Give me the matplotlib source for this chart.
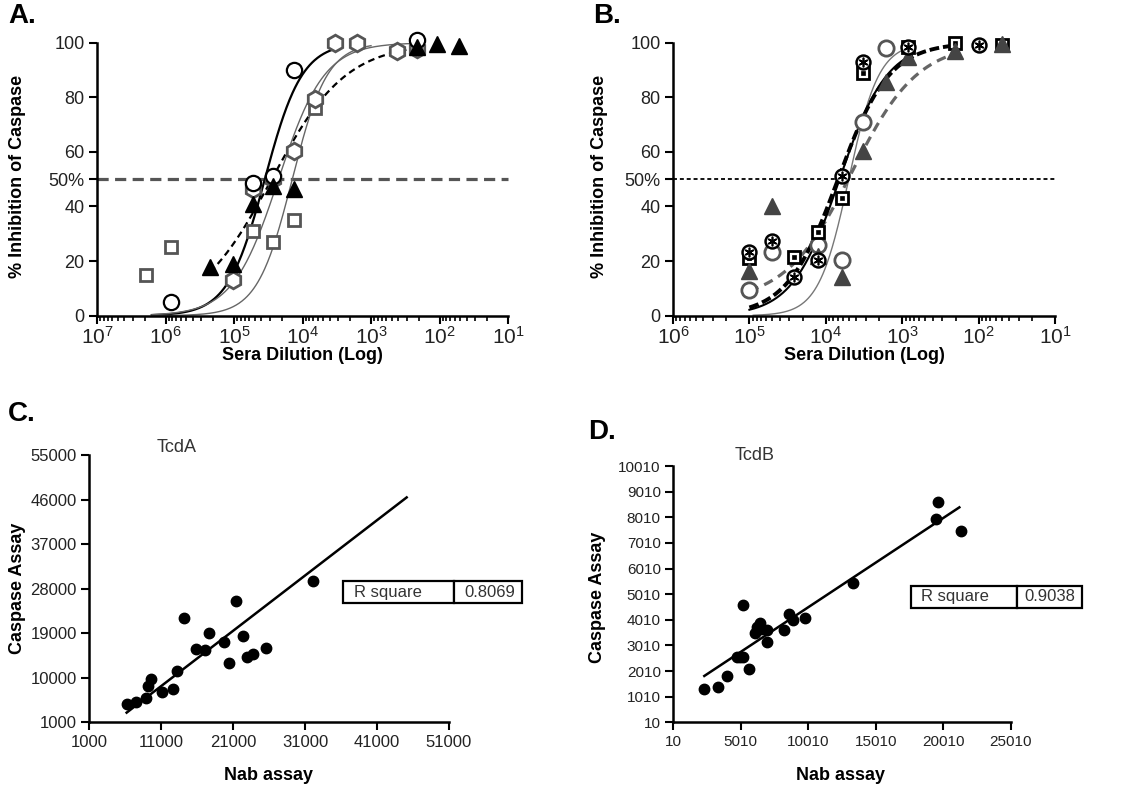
import matplotlib
matplotlib.use('Agg')
import matplotlib.pyplot as plt
import numpy as np
from matplotlib.ticker import FixedLocator, LogLocator, NullFormatter
from matplotlib import font_manager

plt.rcParams['font.family'] = ['Liberation Sans', 'DejaVu Sans']
plt.rcParams['mathtext.fontset'] = 'custom'
plt.rcParams['mathtext.rm'] = 'Liberation Sans'
plt.rcParams['mathtext.it'] = 'Liberation Sans:italic'
plt.rcParams['mathtext.bf'] = 'Liberation Sans:bold'

_names = {f.name for f in font_manager.fontManager.ttflist}
NARROW = 'Liberation Sans Narrow' if 'Liberation Sans Narrow' in _names else 'Liberation Sans'

# ---------------- Panel A data (log10 of sera dilution, % inhibition) -------------
a_sq_log = [6.28, 5.92, 4.72, 4.43, 4.13, 3.82, 2.33]
a_sq_val = [15, 25, 31, 27, 35, 76, 98.5]
a_tri_log = [5.35, 5.01, 4.72, 4.43, 4.13, 2.33, 2.03, 1.72]
a_tri_val = [18, 19, 41, 47.5, 46.5, 98.5, 99.5, 98.8]
a_hex_log = [5.01, 4.72, 4.43, 4.13, 3.82, 3.52, 3.21, 2.62, 2.33]
a_hex_val = [13, 46.5, 50, 60.5, 79.5, 100, 100, 96.8, 97.8]
a_circ_log = [5.92, 4.72, 4.43, 4.13, 2.33]
a_circ_val = [5, 48.5, 51, 90, 101]
# fit parameters: bottom, top, logEC50, hill, log-range start, log-range end
a_fit_circ = [0, 100, 4.55, 1.6, 6.2, 3.55]
a_fit_tri = [0, 100, 4.45, 0.8, 5.35, 2.3]
a_fit_hex = [0, 100, 4.35, 1.3, 6.2, 2.3]
a_fit_sq = [0, 100, 4.15, 1.7, 6.2, 3.0]

# ---------------- Panel B data -------------
b_circ_log = [5.0, 4.71, 4.10, 3.79, 3.51, 3.21]
b_circ_val = [9.4, 23.5, 26, 20.4, 71, 98]
b_tri_log = [5.0, 4.71, 4.10, 3.79, 3.51, 3.21, 2.92, 2.31, 1.70]
b_tri_val = [16.5, 40, 22, 14.3, 60.5, 85.5, 94.6, 97, 99.5]
b_sq_log = [5.0, 4.41, 4.10, 3.79, 3.51, 2.92, 2.31, 1.70]
b_sq_val = [21, 21.4, 30.8, 43, 89, 98.5, 99.8, 99.3]
b_hs_log = [5.0, 4.71, 4.41, 4.10, 3.79, 3.51, 2.92, 2.00]
b_hs_val = [23.4, 27.5, 14.3, 20.4, 51, 93, 98.5, 99]
b_fit_solid = [0, 100, 3.82, 1.4, 5.0, 2.9]
b_fit_thick = [0, 100, 3.84, 1.3, 5.0, 2.3]
b_fit_gray = [5, 100, 3.66, 1.0, 5.0, 2.3]
b_fit_thin = [0, 100, 3.70, 2.2, 4.95, 2.9]

# ---------------- Panel C data -------------
c_nab = [6190, 7487, 8831, 9110, 9573, 11056, 12678, 13234, 14207, 15782, 17033,
         17682, 19768, 20370, 21390, 22409, 22965, 23800, 25514, 32141]
c_casp = [4700, 5040, 5846, 8300, 9800, 7200, 7700, 11400, 22060, 15900, 15600,
          19040, 17250, 13000, 25500, 18500, 14220, 14800, 16040, 29630]
c_slope, c_intercept = 1.117, -3962
c_fit_range = [6190, 45115]
c_r2 = "0.8069"

# ---------------- Panel D data -------------
d_nab = [2307, 3296, 3963, 4710, 4951, 5148, 5148, 5642, 6062, 6186, 6433, 6507,
         6927, 6976, 8211, 8607, 8903, 9768, 13350, 19452, 19600, 21330]
d_casp = [1310, 1401, 1818, 2572, 2572, 2572, 4587, 2078, 3508, 3716, 3872, 3638,
          3612, 3157, 3612, 4236, 4002, 4067, 5459, 7929, 8619, 7487]
d_slope, d_intercept = 0.3481, 1015
d_fit_range = [2307, 21205]
d_r2 = "0.9038"

a_xticks_exp = [7, 6, 5, 4, 3, 2, 1]
b_xticks_exp = [6, 5, 4, 3, 2, 1]
ab_yticks = [0, 20, 40, 50, 60, 80, 100]
ab_yticklabels = ['0', '20', '40', '50%', '60', '80', '100']
c_xticks = [1000, 11000, 21000, 31000, 41000, 51000]
c_yticks = [1000, 10000, 19000, 28000, 37000, 46000, 55000]
d_xticks = [10, 5010, 10010, 15010, 20010, 25010]
d_yticks = [10, 1010, 2010, 3010, 4010, 5010, 6010, 7010, 8010, 9010, 10010]


def logistic(lx, bottom, top, ec50, hill):
    lx = np.asarray(lx)
    return bottom + (top - bottom) / (1 + 10 ** ((lx - ec50) * hill))


def fit_curve(ax, p, **kw):
    lx = np.linspace(p[4], p[5], 300)
    ax.plot(10 ** lx, logistic(lx, *p[:4]), **kw)


W, H = 1132, 788
fig = plt.figure(figsize=(W / 100, H / 100), dpi=100)


def px_axes(x0, x1, ytop, ybot):
    return fig.add_axes([x0 / W, 1 - ybot / H, (x1 - x0) / W, (ybot - ytop) / H])


axA = px_axes(97, 508, 42.7, 315.7)
axB = px_axes(673, 1055, 42.7, 315.7)
axC = px_axes(89.3, 449, 455, 722.3)
axD = px_axes(673.3, 1010.7, 466, 722.3)


def style(ax, labelsize):
    for s in ['top', 'right']:
        ax.spines[s].set_visible(False)
    for s in ['left', 'bottom']:
        ax.spines[s].set_linewidth(1.8)
    ax.tick_params(which='major', direction='out', length=6, width=1.5,
                   labelsize=labelsize, labelcolor='#222222', pad=3)
    ax.tick_params(which='minor', direction='out', length=3.5, width=1.2)


# ---------------- Axes A/B setup -------------
for ax, exps in [(axA, a_xticks_exp), (axB, b_xticks_exp)]:
    ax.set_xscale('log')
    ax.set_xlim(10.0 ** exps[0], 10.0 ** exps[-1])
    ax.set_ylim(0, 100)
    ax.xaxis.set_major_locator(FixedLocator([10.0 ** e for e in exps]))
    ax.set_xticklabels([r'$10^{%d}$' % e for e in exps])
    ax.xaxis.set_minor_locator(LogLocator(base=10, subs=np.arange(2, 10), numticks=20))
    ax.xaxis.set_minor_formatter(NullFormatter())
    ax.set_yticks(ab_yticks)
    ax.set_yticklabels(ab_yticklabels)
    style(ax, 13)
    ax.tick_params(axis='x', which='major', labelsize=15, pad=1)

# ---------------- Panel A -------------
axA.axhline(50, color='#555555', lw=2.3, dashes=(3.5, 2.0), zorder=1, clip_on=False)
fit_curve(axA, a_fit_circ, color='black', lw=1.6, zorder=2)
fit_curve(axA, a_fit_tri, color='black', lw=1.6, dashes=(3, 2), zorder=2)
fit_curve(axA, a_fit_hex, color='#666666', lw=1.0, zorder=2)
fit_curve(axA, a_fit_sq, color='#666666', lw=1.0, zorder=2)

axA.plot(10 ** np.array(a_sq_log), a_sq_val, 's', ms=9, mfc='white', mec='#555555',
         mew=2, clip_on=False, zorder=4)
axA.plot(10 ** np.array(a_hex_log), a_hex_val, 'h', ms=12, mfc='white', mec='#555555',
         mew=2, clip_on=False, zorder=4)
axA.plot(10 ** np.array(a_circ_log), a_circ_val, 'o', ms=11, mfc='white', mec='black',
         mew=1.6, clip_on=False, zorder=5)
axA.plot(10 ** np.array(a_tri_log), a_tri_val, '^', ms=11, mfc='black', mec='black',
         mew=1, clip_on=False, zorder=6)

# ---------------- Panel B -------------
axB.axhline(50, color='black', lw=1.3, dashes=(2.2, 1.6), zorder=1, clip_on=False)
fit_curve(axB, b_fit_thin, color='#777777', lw=1.0, zorder=2)
fit_curve(axB, b_fit_gray, color='#666666', lw=2.3, dashes=(3, 2), zorder=2)
fit_curve(axB, b_fit_solid, color='black', lw=1.5, zorder=3)
fit_curve(axB, b_fit_thick, color='black', lw=2.8, dashes=(2.5, 1), zorder=3)

axB.plot(10 ** np.array(b_circ_log), b_circ_val, 'o', ms=11, mfc='white', mec='#555555',
         mew=2, clip_on=False, zorder=4)
axB.plot(10 ** np.array(b_sq_log), b_sq_val, 's', ms=9, mfc='white', mec='black',
         mew=2, clip_on=False, zorder=5)
axB.plot(10 ** np.array(b_sq_log), b_sq_val, 's', ms=2.5, mfc='black', mec='black',
         mew=0.5, clip_on=False, zorder=5)
axB.plot(10 ** np.array(b_tri_log), b_tri_val, '^', ms=11, mfc='#444444', mec='#444444',
         mew=1, clip_on=False, zorder=6)
axB.plot(10 ** np.array(b_hs_log), b_hs_val, 'o', ms=10, mfc='white', mec='black',
         mew=1.8, clip_on=False, zorder=7)
axB.plot(10 ** np.array(b_hs_log), b_hs_val, marker=(6, 2, 0), ls='none', ms=7,
         mec='black', mew=1.2, clip_on=False, zorder=8)

# ---------------- Panel C -------------
axC.set_xlim(c_xticks[0], c_xticks[-1])
axC.set_ylim(c_yticks[0], c_yticks[-1])
axC.set_xticks(c_xticks)
axC.set_yticks(c_yticks)
style(axC, 12)
xf = np.array(c_fit_range)
axC.plot(xf, c_intercept + c_slope * xf, color='black', lw=1.8, zorder=2)
axC.plot(c_nab, c_casp, 'o', ms=7.5, color='black', zorder=3)

# ---------------- Panel D -------------
axD.set_xlim(d_xticks[0], d_xticks[-1])
axD.set_ylim(d_yticks[0], d_yticks[-1])
axD.set_xticks(d_xticks)
axD.set_yticks(d_yticks)
style(axD, 12.5 if NARROW != 'Liberation Sans' else 11)
for lab in axD.get_xticklabels() + axD.get_yticklabels():
    lab.set_family([NARROW, 'Liberation Sans'])
xf = np.array(d_fit_range)
axD.plot(xf, d_intercept + d_slope * xf, color='black', lw=1.8, zorder=2)
axD.plot(d_nab, d_casp, 'o', ms=7.5, color='black', zorder=3)


def r2_table(ax, val, bbox):
    t = ax.table(cellText=[['R square', val]], bbox=bbox, colWidths=[0.62, 0.38])
    t.auto_set_font_size(False)
    for (r, c), cell in t.get_celld().items():
        cell.set_linewidth(1.6)
        cell.set_edgecolor('black')
        cell.get_text().set_fontsize(12)
        cell.get_text().set_color('#333333')
        cell.get_text().set_family([NARROW, 'Liberation Sans'])
        if c == 0:
            cell.get_text().set_ha('left')
            cell._loc = 'left'
        else:
            cell._loc = 'center'
    t.set_clip_on(False)


r2_table(axC, c_r2, [0.704, 0.445, 0.498, 0.084])
r2_table(axD, d_r2, [0.704, 0.445, 0.506, 0.088])

# ---------------- Text -------------
def ftext(x, y, s, **kw):
    fig.text(x / W, 1 - y / H, s, ha='center', va='center', **kw)

ftext(22, 16, 'A.', fontsize=20, fontweight='bold')
ftext(607, 16, 'B.', fontsize=20, fontweight='bold')
ftext(22, 414, 'C.', fontsize=20, fontweight='bold')
ftext(602, 432, 'D.', fontsize=20, fontweight='bold')

ftext(18, 176, '% Inhibition of Caspase', fontsize=13, fontweight='bold', rotation=90)
ftext(600, 176, '% Inhibition of Caspase', fontsize=13, fontweight='bold', rotation=90)
ftext(302, 356, 'Sera Dilution (Log)', fontsize=13, fontweight='bold')
ftext(864, 356, 'Sera Dilution (Log)', fontsize=13, fontweight='bold')

ftext(18, 588, 'Caspase Assay', fontsize=13, fontweight='bold', rotation=90)
ftext(268, 775, 'Nab assay', fontsize=13, fontweight='bold')
ftext(598, 597, 'Caspase Assay', fontsize=13, fontweight='bold', rotation=90)
ftext(841, 776, 'Nab assay', fontsize=13, fontweight='bold')

ftext(177, 447, 'TcdA', fontsize=13, color='#333333')
ftext(755, 456, 'TcdB', fontsize=13, color='#333333')

fig.savefig('out.png', dpi=100)
